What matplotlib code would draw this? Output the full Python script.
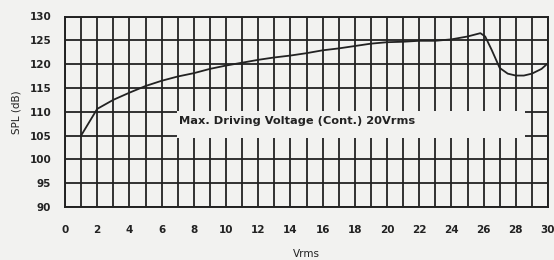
import matplotlib
matplotlib.use("Agg")
import matplotlib.pyplot as plt
from matplotlib.patches import Rectangle

# SPL vs driving voltage
vrms = [1, 2, 3, 4, 5, 6, 7, 8, 9, 10, 11, 12, 13, 14, 15, 16, 17, 18, 19, 20,
        21, 22, 23, 24, 25, 25.8, 26.1, 26.5, 27, 27.5, 28, 28.5, 29, 29.6, 30]
spl = [105.0, 110.6, 112.5, 114.0, 115.4, 116.5, 117.4, 118.1, 119.0, 119.7,
       120.3, 120.9, 121.4, 121.8, 122.3, 122.9, 123.3, 123.8, 124.3, 124.6,
       124.7, 124.9, 124.9, 125.2, 125.8, 126.5, 125.8, 123.0, 119.2, 118.0,
       117.6, 117.6, 118.0, 119.0, 120.2]

x_ticks = list(range(0, 31, 2))
y_ticks = list(range(90, 131, 5))
note = "Max. Driving Voltage (Cont.) 20Vrms"

bg = "#f2f2f0"
ink = "#222222"

fig = plt.figure(figsize=(5.54, 2.6), dpi=100, facecolor=bg)
ax = fig.add_axes([65 / 554, 1 - 207 / 260, (548 - 65) / 554, (207 - 16.5) / 260])
ax.set_facecolor(bg)

# grid: every volt and every 5 dB
for v in range(0, 31):
    ax.axvline(v, color=ink, lw=1.3, zorder=1)
for y in y_ticks:
    ax.axhline(y, color=ink, lw=1.3, zorder=1)

# label box that blanks out part of the grid
ax.add_patch(Rectangle((6.95, 104.4), 21.65, 5.8, facecolor=bg, edgecolor="none", zorder=2))
ax.text(7.05, 108.0, note, fontsize=8.2, fontweight="bold", color=ink,
        va="center", ha="left", zorder=3, family="DejaVu Sans")

ax.plot(vrms, spl, color=ink, lw=1.3, zorder=4)

ax.set_xlim(0, 30)
ax.set_ylim(90, 130)
ax.set_xticks(x_ticks)
ax.set_yticks(y_ticks)
ax.tick_params(length=0, labelsize=7.5, colors=ink)
ax.tick_params(axis="x", pad=13)
ax.tick_params(axis="y", pad=10)
for lab in ax.get_xticklabels() + ax.get_yticklabels():
    lab.set_fontweight("bold")
for s in ax.spines.values():
    s.set_color(ink)
    s.set_linewidth(1.4)
ax.set_xlabel("Vrms", fontsize=7.5, color=ink, labelpad=10)
ax.set_ylabel("SPL (dB)", fontsize=7.5, color=ink, labelpad=6)

fig.savefig("out.png", dpi=100, facecolor=bg)
